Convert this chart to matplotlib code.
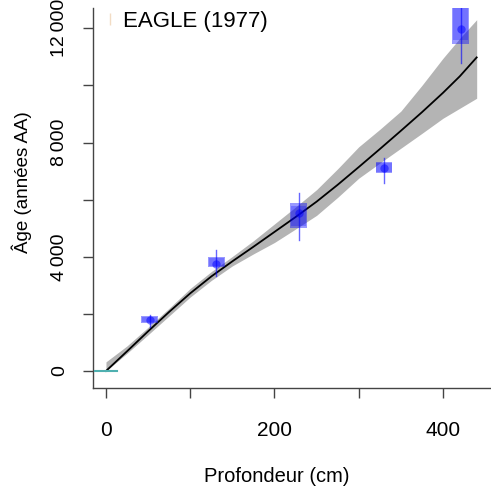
import matplotlib
matplotlib.use("Agg")
import matplotlib.pyplot as plt
from matplotlib.lines import Line2D
from matplotlib.patches import Rectangle
import numpy as np

plt.rcParams['font.family'] = ['Liberation Sans', 'DejaVu Sans']

# age-depth model (mean and envelope), read every 25 cm
model_depth = [0, 25, 50, 75, 100, 125, 150, 175, 200, 225, 250, 275, 300, 325, 350, 375,
               400, 420, 440]
model_age = [0, 690, 1390, 2070, 2720, 3310, 3840, 4350, 4870, 5390, 5930, 6520, 7140, 7770,
             8410, 9060, 9740, 10320, 10980]
model_lo = [0, 620, 1270, 1930, 2590, 3170, 3680, 4100, 4500, 4970, 5450, 6080, 6750, 7280,
            7800, 8320, 8850, 9200, 9550]
model_hi = [320, 880, 1530, 2200, 2890, 3480, 4010, 4560, 5150, 5740, 6350, 7080, 7850, 8460,
            9100, 10000, 10950, 11650, 12300]

# dated levels
date_depth = [52, 131, 229, 330, 421]
date_age = [1790, 3755, 5530, 7110, 11960]
date_halfw = [10, 10, 10, 10, 10]
box_lo = [1680, 3650, 5000, 6930, 11440]
box_hi = [1910, 4000, 5880, 7310, 12900]
inner_lo = [1700, 3680, 5090, 6960, 11590]
inner_hi = [1890, 3970, 5790, 7280, 12900]
bar_lo = [1540, 3310, 4590, 6580, 10800]
bar_hi = [1960, 4245, 6230, 7460, 12900]

# surface
surf_depth = 0
surf_age = 0
surf_halfw = 12.5

xticks = [0, 100, 200, 300, 400]
xlabels = ['0', '', '200', '', '400']
yticks = [0, 2000, 4000, 6000, 8000, 10000, 12000]
ylabels = ['0', '', '4\u2009000', '', '8\u2009000', '', '12\u2009000']

W, H = 491, 486
fig = plt.figure(figsize=(W / 100, H / 100), dpi=100)
ax = fig.add_axes([93 / W, (H - 388) / H, (491 - 93) / W, (388 - 8) / H])

ax.fill_between(model_depth, model_lo, model_hi, color='#b4b4b4', lw=0, zorder=1)
ax.plot(model_depth, model_age, color='black', lw=1.3, zorder=2)

for d, a, hw, b0, b1, i0, i1, e0, e1 in zip(date_depth, date_age, date_halfw, box_lo, box_hi,
                                            inner_lo, inner_hi, bar_lo, bar_hi):
    ax.add_patch(Rectangle((d - hw, b0), 2 * hw, b1 - b0, facecolor='blue', alpha=0.4,
                           lw=0, zorder=3))
    ax.add_patch(Rectangle((d - hw * 0.9, i0), 1.8 * hw, i1 - i0, facecolor='blue', alpha=0.25,
                           lw=0, zorder=3))
    ax.plot([d, d], [e0, e1], color='blue', lw=1, alpha=0.6, zorder=4)
    ax.plot(d, a, 'o', color='blue', ms=6, mec='none', alpha=0.5, zorder=4)

ax.plot([surf_depth - surf_halfw, surf_depth + surf_halfw], [surf_age, surf_age],
        color='#4fb0b0', lw=1.5, zorder=4)

ax.set_xlim(-15.4, 457)
ax.set_ylim(-595, 12710)
for s in ['top', 'right']:
    ax.spines[s].set_visible(False)
for s in ['left', 'bottom']:
    ax.spines[s].set_color('#444444')
    ax.spines[s].set_linewidth(1)

ax.set_xticks(xticks)
ax.set_xticklabels(xlabels)
ax.set_yticks(yticks)
ax.set_yticklabels(ylabels, rotation=90, va='center')
ax.tick_params(axis='both', length=7, width=1, color='#444444')
ax.tick_params(axis='x', pad=17, labelsize=15)
ax.tick_params(axis='y', pad=11, labelsize=14)

fig.text(22 / W, (H - 182) / H, 'Âge (années AA)', rotation=90, ha='center', va='center',
         fontsize=13.5)
fig.text(277 / W, (H - 476) / H, 'Profondeur (cm)', ha='center', va='center', fontsize=14.5)

handle = Line2D([], [], ls='none', marker='|', color='#f2dcc4', ms=9, mew=1)
fig.legend(handles=[handle], labels=['EAGLE (1977)'], loc='upper left',
           bbox_to_anchor=(101 / W, (H - 11) / H), frameon=False, fontsize=16,
           handlelength=0.8, handletextpad=0.2, borderpad=0, borderaxespad=0)

fig.savefig('out.png', dpi=100)
